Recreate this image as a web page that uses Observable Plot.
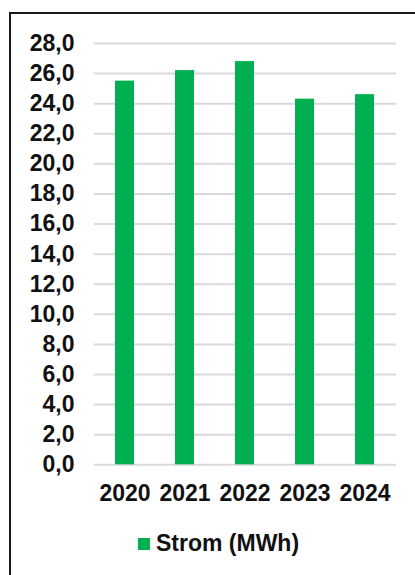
<!DOCTYPE html>
<html>
<head>
<meta charset="utf-8">
<script src="https://cdn.jsdelivr.net/npm/d3@7"></script>
<script src="https://cdn.jsdelivr.net/npm/@observablehq/plot@0.6"></script>
<style>
  html, body { margin: 0; padding: 0; background: #fff; }
  body { width: 415px; height: 575px; position: relative; overflow: hidden; font-family: "Liberation Sans", Arial, sans-serif; }
  #frame { position: absolute; left: 9px; top: 12px; width: 420px; height: 580px; border-top: 2px solid #1a1a1a; border-left: 2px solid #1a1a1a; box-sizing: border-box; pointer-events: none; }
  #chart { position: absolute; left: 0; top: 0; }
  #legend { position: absolute; left: 138px; top: 530px; display: flex; align-items: center; font-weight: bold; font-size: 23px; color: #111; }
  #legend .sw { width: 12px; height: 12px; background: #00b050; margin-right: 6px; }
</style>
</head>
<body>
<div id="chart"></div>
<div id="frame"></div>
<div id="legend"><span class="sw"></span><span>Strom (MWh)</span></div>
<script>
const years = ["2020", "2021", "2022", "2023", "2024"];
const strom = [25.5, 26.2, 26.8, 24.3, 24.6];
const yTicks = [0, 2, 4, 6, 8, 10, 12, 14, 16, 18, 20, 22, 24, 26, 28];
const seriesName = "Strom (MWh)";

const data = years.map((y, i) => ({year: y, value: strom[i]}));
const fmt = d => d.toFixed(1).replace(".", ",");

const chart = Plot.plot({
  width: 415,
  height: 510,
  marginLeft: 94,
  marginRight: 19,
  marginTop: 43,
  marginBottom: 45.7,
  style: {fontFamily: "'Liberation Sans', Arial, sans-serif", fontWeight: "bold", fontSize: "23px", color: "#111", background: "transparent"},
  x: {domain: years, paddingInner: 0.68, paddingOuter: 0.34, label: null, tickSize: 0, tickPadding: 20},
  y: {domain: [0, 28], ticks: yTicks, tickFormat: fmt, label: null, tickSize: 0, tickPadding: 20},
  marks: [
    Plot.ruleY(yTicks, {stroke: "#d9d9d9", strokeWidth: 2}),
    Plot.barY(data, {x: "year", y: "value", fill: "#00b050", title: d => `${seriesName} ${d.year}: ${fmt(d.value)}`})
  ]
});
document.getElementById("chart").appendChild(chart);
</script>
</body>
</html>
